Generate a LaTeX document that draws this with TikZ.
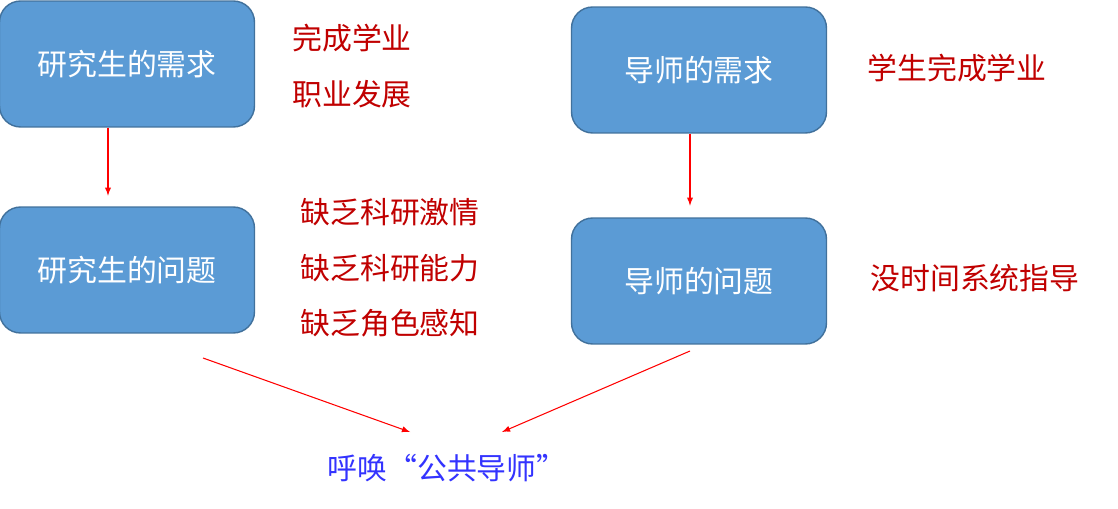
\documentclass[tikz,border=0pt]{standalone}
\usepackage{fontspec}
\setmainfont{Noto Sans CJK SC}
\begin{document}
\begin{tikzpicture}[
  x=0.02cm, y=-0.02cm,
  bnode/.style={rectangle, rounded corners=12pt, fill={rgb,255:red,91;green,155;blue,213}, draw={rgb,255:red,65;green,113;blue,156}, line width=0.8pt, text=white, minimum width=5.1cm, minimum height=2.52cm, font=\fontsize{17}{20}\selectfont},
  rnode/.style={text={rgb,255:red,192;green,0;blue,0}, font=\fontsize{17}{20}\selectfont},
  arw/.style={-latex, red, line width=0.6pt}
  ]
\useasboundingbox (0,0) rectangle (1118,509);

\node [bnode] (sneed) at (127,64) {研究生的需求};
\node [bnode] (sprob) at (127,270) {研究生的问题};
\node [bnode] (tneed) at (699,70) {导师的需求};
\node [bnode] (tprob) at (699,281) {导师的问题};

\node [rnode] (s1) at (352,38) {完成学业};
\node [rnode] (s2) at (352,94) {职业发展};
\node [rnode] (p1) at (390,212) {缺乏科研激情};
\node [rnode] (p2) at (390,268) {缺乏科研能力};
\node [rnode] (p3) at (390,323) {缺乏角色感知};
\node [rnode] (t1) at (957,68) {学生完成学业};
\node [rnode] (t2) at (975,278) {没时间系统指导};

\node [text={rgb,255:red,51;green,51;blue,255}, font=\fontsize{17}{20}\selectfont] (call) at (447,468) {呼唤“公共导师”};

\coordinate (a1) at (203,358);
\coordinate (a2) at (410,432);
\coordinate (b1) at (690,351);
\coordinate (b2) at (502,432);

\draw [arw] (sneed.south -| 108,0) -- ++(0,68);
\draw [arw] (tneed.south -| 690,0) -- ++(0,72);
\draw [arw] (a1) -- (a2);
\draw [arw] (b1) -- (b2);

\end{tikzpicture}
\end{document}
